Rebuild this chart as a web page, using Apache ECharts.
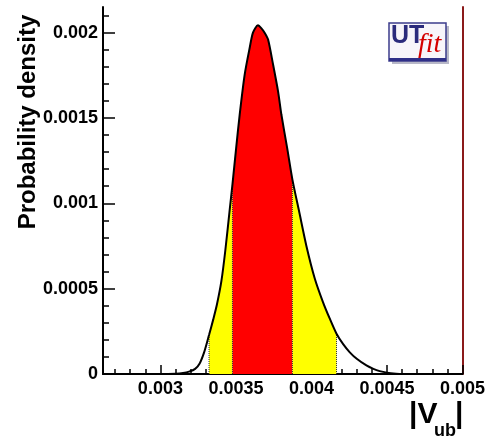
<!DOCTYPE html>
<html>
<head>
<meta charset="utf-8">
<style>
html,body{margin:0;padding:0;background:#fff;}
#chart{width:488px;height:438px;}
</style>
<script src="https://cdn.jsdelivr.net/npm/echarts@6/dist/echarts.min.js"></script>
</head>
<body>
<div id="chart"></div>
<script>
// |Vub| values (x) and probability density (y)
const vubValues = [0.00262, 0.0030, 0.00310, 0.00315, 0.00319, 0.00323, 0.00326, 0.00329, 0.003322, 0.00335,
  0.003375, 0.003404, 0.00343, 0.003459, 0.003477, 0.0035, 0.003525, 0.003558, 0.003591, 0.003613,
  0.003646, 0.003669, 0.003691, 0.003713, 0.003746, 0.003779, 0.003801, 0.00384, 0.003874, 0.00392,
  0.003967, 0.004022, 0.004077, 0.00412, 0.004166, 0.00421, 0.004254, 0.0043, 0.004364, 0.00441,
  0.004452, 0.0045, 0.00456, 0.0046, 0.005];
const densityValues = [0, 0, 0.000002, 0.000006, 0.000014, 0.00003, 0.000062, 0.000128, 0.000228, 0.00032,
  0.00041, 0.000545, 0.000725, 0.000963, 0.00111, 0.00131, 0.00152, 0.001754, 0.00191, 0.00200,
  0.002043, 0.002025, 0.001998, 0.001959, 0.001813, 0.001656, 0.00152, 0.00132, 0.001139, 0.000946,
  0.000749, 0.000560, 0.000420, 0.000327, 0.000236, 0.000175, 0.000127, 0.000089, 0.00005, 0.00003,
  0.000017, 0.000008, 0.000002, 0, 0];
// credible intervals
const band68 = [0.003477, 0.003874];
const band95 = [0.003322, 0.004166];
// ticks
const xTickValues = [0.003, 0.0035, 0.004, 0.0045, 0.005];
const xTickLabels = ['0.003', '0.0035', '0.004', '0.0045', '0.005'];
const xMinorTicks = [0.0027, 0.0028, 0.0029, 0.0031, 0.0032, 0.0033, 0.0034, 0.0036, 0.0037, 0.0038, 0.0039,
  0.0041, 0.0042, 0.0043, 0.0044, 0.0046, 0.0047, 0.0048, 0.0049];
const yTickValues = [0, 0.0005, 0.001, 0.0015, 0.002];
const yTickLabels = ['0', '0.0005', '0.001', '0.0015', '0.002'];
const yMinorTicks = [0.0001, 0.0002, 0.0003, 0.0004, 0.0006, 0.0007, 0.0008, 0.0009, 0.0011, 0.0012, 0.0013,
  0.0014, 0.0016, 0.0017, 0.0018, 0.0019, 0.0021];
const yTitle = 'Probability density';

const pts = vubValues.map((x, i) => [x, densityValues[i]]);
const inRange = (a, b) => pts.filter(p => p[0] >= a - 1e-9 && p[0] <= b + 1e-9);
const yAt = x => pts.find(p => Math.abs(p[0] - x) < 1e-9)[1];
const lab = (vals, labs) => v => { const i = vals.findIndex(t => Math.abs(t - v) < 1e-9); return i < 0 ? '' : labs[i]; };

const FONT = '"Liberation Sans", Arial, sans-serif';
const X0 = 0.00262, X1 = 0.005, Y1 = 0.00215;
const SMOOTH = 0.25;

const fillSeries = (data, color) => ({
  type: 'line', data, xAxisIndex: 0, yAxisIndex: 0, smooth: SMOOTH,
  showSymbol: false, symbol: 'none', lineStyle: { width: 0 }, areaStyle: { color, opacity: 1 },
  silent: true, z: 2
});
const edgeSeries = x => ({
  type: 'line', data: [[x, 0], [x, yAt(x)]], xAxisIndex: 0, yAxisIndex: 0, symbol: 'none',
  lineStyle: { color: '#333', width: 1, type: 'dotted' }, silent: true, z: 3
});

const chart = echarts.init(document.getElementById('chart'), null, { renderer: 'canvas' });
chart.setOption({
  animation: false,
  backgroundColor: '#fff',
  grid: { left: 103, right: 25, top: 7, bottom: 64, containLabel: false },
  xAxis: [
    { type: 'value', position: 'bottom', min: X0, max: X1,
      axisLine: { show: true, lineStyle: { color: '#000', width: 2 } },
      axisTick: { show: true, inside: true, length: 9, customValues: xTickValues, lineStyle: { color: '#000', width: 1.5 } },
      axisLabel: { show: true, customValues: xTickValues, formatter: lab(xTickValues, xTickLabels), margin: 6,
        showMinLabel: true, showMaxLabel: true, color: '#000', fontFamily: FONT, fontWeight: 'bold', fontSize: 18 },
      splitLine: { show: false } },
    { type: 'value', position: 'bottom', min: X0, max: X1,
      axisLine: { show: false },
      axisTick: { show: true, inside: true, length: 5, customValues: xMinorTicks, lineStyle: { color: '#000', width: 1.5 } },
      axisLabel: { show: false }, splitLine: { show: false } },
    { type: 'value', position: 'top', min: X0, max: X1,
      axisLine: { show: true, lineStyle: { color: '#000', width: 1 } },
      axisTick: { show: false }, axisLabel: { show: false }, splitLine: { show: false } }
  ],
  yAxis: [
    { type: 'value', position: 'left', min: 0, max: Y1,
      axisLine: { show: true, lineStyle: { color: '#000', width: 2 } },
      axisTick: { show: true, inside: true, length: 12, customValues: yTickValues, lineStyle: { color: '#000', width: 1.5 } },
      axisLabel: { show: true, customValues: yTickValues, formatter: lab(yTickValues, yTickLabels), margin: 5,
        showMinLabel: true, color: '#000', fontFamily: FONT, fontWeight: 'bold', fontSize: 18 },
      splitLine: { show: false } },
    { type: 'value', position: 'left', min: 0, max: Y1,
      axisLine: { show: false },
      axisTick: { show: true, inside: true, length: 6, customValues: yMinorTicks, lineStyle: { color: '#000', width: 1.5 } },
      axisLabel: { show: false }, splitLine: { show: false } },
    { type: 'value', position: 'right', min: 0, max: Y1,
      axisLine: { show: true, lineStyle: { color: '#8b1a1a', width: 2 } },
      axisTick: { show: false }, axisLabel: { show: false }, splitLine: { show: false } }
  ],
  series: [
    fillSeries(inRange(band95[0], band68[0]), '#ffff00'),
    fillSeries(inRange(band68[0], band68[1]), '#ff0000'),
    fillSeries(inRange(band68[1], band95[1]), '#ffff00'),
    edgeSeries(band95[0]), edgeSeries(band68[0]), edgeSeries(band68[1]), edgeSeries(band95[1]),
    { type: 'line', data: pts, xAxisIndex: 0, yAxisIndex: 0, smooth: SMOOTH,
      symbol: 'none', lineStyle: { color: '#000', width: 2 }, silent: true, z: 5 }
  ],
  graphic: [
    { type: 'text', x: 28, y: 122, rotation: Math.PI / 2,
      style: { text: yTitle, font: 'bold 24px ' + FONT, fill: '#000', textAlign: 'center', textVerticalAlign: 'middle' } },
    { type: 'text', x: 409, y: 415,
      style: { text: '|V', font: 'bold 30px ' + FONT, fill: '#000', textAlign: 'left', textVerticalAlign: 'middle' } },
    { type: 'text', x: 434, y: 431,
      style: { text: 'ub', font: 'bold 18px ' + FONT, fill: '#000', textAlign: 'left', textVerticalAlign: 'middle' } },
    { type: 'text', x: 455, y: 415,
      style: { text: '|', font: 'bold 30px ' + FONT, fill: '#000', textAlign: 'left', textVerticalAlign: 'middle' } },
    // UTfit logo
    { type: 'rect', shape: { x: 392, y: 26, width: 57, height: 38 }, style: { fill: '#b8b8c8' }, z: 10 },
    { type: 'rect', shape: { x: 389, y: 23, width: 57, height: 38 },
      style: { fill: '#f7f5fa', stroke: '#3c3c8c', lineWidth: 1.5 }, z: 11 },
    { type: 'rect', shape: { x: 389, y: 58, width: 57, height: 3 }, style: { fill: '#2f2f88' }, z: 12 },
    { type: 'text', x: 391, y: 36, z: 13,
      style: { text: 'UT', font: 'bold 25px ' + FONT, fill: '#2b2b7c', textAlign: 'left', textVerticalAlign: 'middle' } },
    { type: 'text', x: 418, y: 45, z: 13,
      style: { text: 'fit', font: 'italic 28px "Liberation Serif", serif', fill: '#d40000', textAlign: 'left', textVerticalAlign: 'middle' } }
  ]
});
</script>
</body>
</html>
